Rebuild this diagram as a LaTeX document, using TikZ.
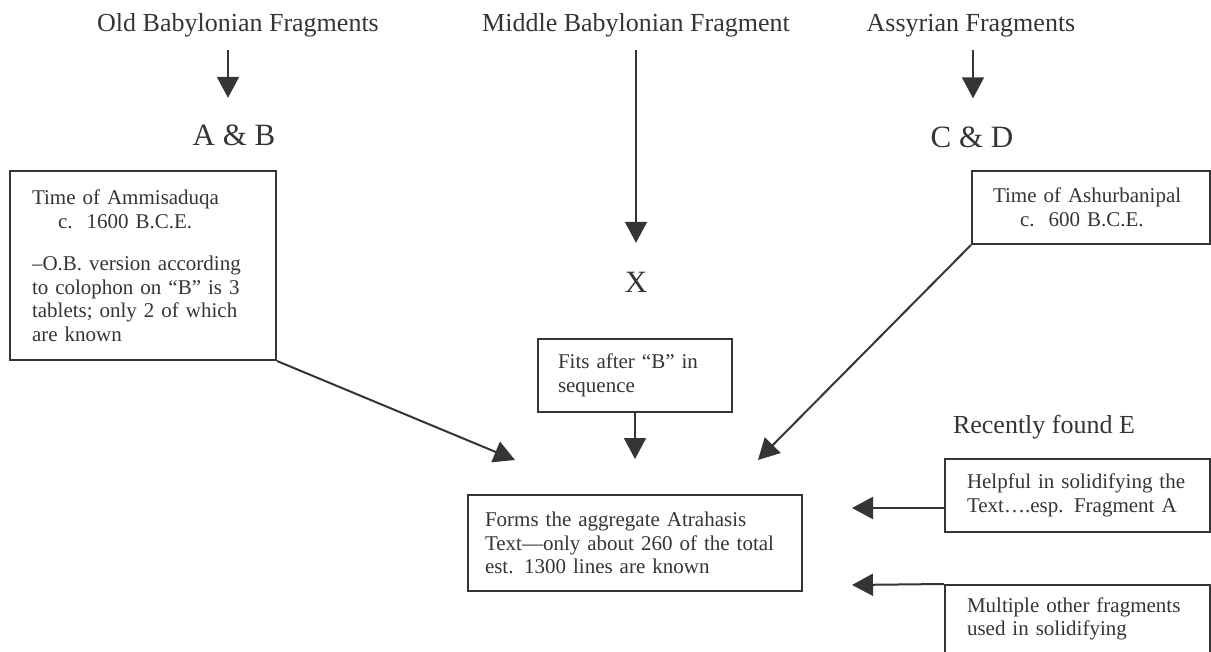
\documentclass[tikz,border=0pt]{standalone}
\usepackage{fontspec}
\setmainfont{Liberation Serif}
\usetikzlibrary{arrows.meta}
\definecolor{ink}{HTML}{353535}
\begin{document}
\begin{tikzpicture}[x=1pt,y=-1pt,
  title/.style={font=\fontsize{26}{30}\selectfont, text=ink, inner sep=0pt, text height=18pt, text depth=6pt},
  letter/.style={font=\fontsize{31}{36}\selectfont, text=ink, inner sep=0pt, text height=21pt, text depth=0pt},
  box/.style={draw=ink, line width=2pt, text=ink, font=\fontsize{21}{23.5}\selectfont, align=left, inner ysep=0pt},
  arr/.style={draw=ink, line width=2pt, -{Triangle[width=22pt,length=21pt]}},
]
\useasboundingbox (0,0) rectangle (1211,652);
\clip (0,0) rectangle (1211,652);
\fill[white] (0,0) rectangle (1211,652);

% titles
\node[title] (ob) at (238,26) {Old Babylonian Fragments};
\node[title] (mb) at (636,26) {Middle Babylonian Fragment};
\node[title] (as) at (971,26) {Assyrian Fragments};

% letters
\node[letter] (ab) at (234,135) {A \& B};
\node[letter] (x) at (636,282) {X};
\node[letter] (cd) at (972,137) {C \& D};

% boxes
\node[box, text width=222pt, inner xsep=22pt, minimum height=189pt] (lbox) at (143,265.5)
  {Time of Ammisaduqa\\ \hspace*{26pt}c.\ \ 1600 B.C.E.\\[19pt]
   –O.B. version according\\ to colophon on “B” is 3\\ tablets; only 2 of which\\ are known};
\node[box, text width=196pt, inner xsep=21pt, minimum height=73pt] (rbox) at (1091,207.5)
  {Time of Ashurbanipal\\ \hspace*{27pt}c.\ \ 600 B.C.E.};
\node[box, text width=154pt, inner xsep=20pt, minimum height=73pt] (fits) at (635,375.5)
  {Fits after “B” in\\ sequence};
\node[box, text width=300pt, inner xsep=17pt, minimum height=96pt] (agg) at (635,543)
  {Forms the aggregate Atrahasis\\ Text—only about 260 of the total\\ est. 1300 lines are known};
\node[title] (rec) at (1044,427) {Recently found E};
\node[box, text width=221pt, inner xsep=22pt, minimum height=73pt] (helpful) at (1077.5,495.5)
  {Helpful in solidifying the\\ Text….esp. Fragment A};
\node[box, text width=221pt, inner xsep=22pt, minimum height=68pt] (multi) at (1077.5,619)
  {Multiple other fragments\\ used in solidifying};

% free ends
\coordinate (tipL) at (515,460);
\coordinate (tipR) at (758,460);
\coordinate (tipH) at (852,508);
\coordinate (tipM) at (852,585);

% connectors
\draw[arr] ([xshift=-10pt,yshift=-12pt]ob.south) -- ([xshift=-6pt,yshift=26.5pt]ab.north);
\draw[arr] ([yshift=-12pt]mb.south) -- ([yshift=28.5pt]x.north);
\draw[arr] ([xshift=2pt,yshift=-12pt]as.south) -- ([xshift=1pt,yshift=28pt]cd.north);
\draw[arr] (lbox.south east) -- (tipL);
\draw[arr] (rbox.south west) -- (tipR);
\draw[arr] (fits.south) -- ([yshift=35pt]agg.north);
\draw[arr] ([yshift=-12.5pt]helpful.west) -- (tipH);
\draw[arr] (multi.north west) -- (tipM);
\end{tikzpicture}
\end{document}
